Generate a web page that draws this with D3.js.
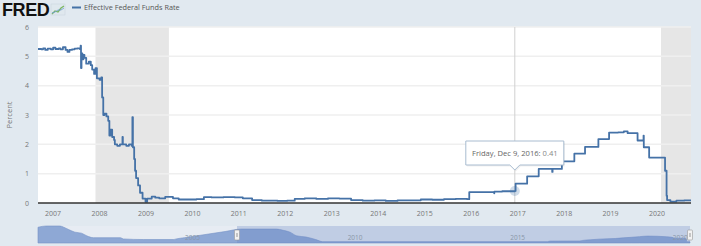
<!DOCTYPE html>
<html>
<head>
<meta charset="utf-8">
<script src="https://cdn.jsdelivr.net/npm/d3@7"></script>
<style>
  body { margin: 0; background: #e1e9f0; }
  svg { display: block; font-family: "Open Sans", "DejaVu Sans", sans-serif; }
</style>
</head>
<body>
<script>
// Effective Federal Funds Rate (step changes and a few spikes)
var fedRate = [
  ["2006-09-05", 5.25], ["2006-10-01", 5.24], ["2006-10-15", 5.27], ["2006-11-01", 5.22],
  ["2006-11-20", 5.26], ["2006-12-15", 5.24], ["2007-01-02", 5.30], ["2007-01-20", 5.25],
  ["2007-02-15", 5.27], ["2007-03-01", 5.24], ["2007-03-20", 5.31], ["2007-04-10", 5.22],
  ["2007-04-25", 5.15], ["2007-05-10", 5.22], ["2007-05-30", 5.24], ["2007-06-20", 5.26],
  ["2007-07-10", 5.27], ["2007-07-31", 5.25], ["2007-08-06", 5.36], ["2007-08-09", 4.60],
  ["2007-08-13", 5.10], ["2007-08-20", 4.90], ["2007-08-28", 5.05], ["2007-09-05", 4.95],
  ["2007-09-19", 4.75], ["2007-10-10", 4.82], ["2007-10-25", 4.70], ["2007-11-05", 4.55],
  ["2007-11-20", 4.40], ["2007-12-01", 4.60], ["2007-12-12", 4.25], ["2008-01-02", 4.20],
  ["2008-01-15", 4.28], ["2008-01-22", 3.60], ["2008-01-31", 3.00], ["2008-02-10", 3.05],
  ["2008-02-25", 2.95], ["2008-03-10", 2.80], ["2008-03-19", 2.30], ["2008-03-28", 2.50],
  ["2008-04-10", 2.25], ["2008-04-25", 2.15], ["2008-05-01", 2.00], ["2008-05-20", 1.95],
  ["2008-06-10", 2.00], ["2008-06-30", 2.25], ["2008-07-03", 2.00], ["2008-07-30", 1.95],
  ["2008-08-20", 2.00], ["2008-09-10", 1.95], ["2008-09-16", 2.93], ["2008-09-20", 1.90],
  ["2008-09-30", 1.50], ["2008-10-07", 1.10], ["2008-10-15", 0.85], ["2008-10-31", 0.60],
  ["2008-11-15", 0.35], ["2008-12-05", 0.15], ["2008-12-28", 0.04], ["2009-01-10", 0.15],
  ["2009-02-15", 0.22], ["2009-03-15", 0.18], ["2009-04-15", 0.16], ["2009-06-01", 0.21],
  ["2009-08-01", 0.16], ["2009-09-15", 0.12], ["2009-12-01", 0.12], ["2010-02-01", 0.13],
  ["2010-04-01", 0.20], ["2010-06-01", 0.19], ["2010-09-01", 0.20], ["2010-12-01", 0.19],
  ["2011-02-01", 0.16], ["2011-04-15", 0.10], ["2011-07-01", 0.08], ["2011-09-01", 0.08],
  ["2011-11-01", 0.07], ["2012-01-15", 0.08], ["2012-03-15", 0.14], ["2012-06-01", 0.16],
  ["2012-09-01", 0.14], ["2012-12-01", 0.16], ["2013-03-01", 0.15], ["2013-06-01", 0.10],
  ["2013-09-01", 0.08], ["2013-12-01", 0.09], ["2014-03-01", 0.07], ["2014-06-01", 0.09],
  ["2014-09-01", 0.09], ["2014-12-01", 0.12], ["2015-03-01", 0.11], ["2015-06-01", 0.13],
  ["2015-09-01", 0.14], ["2015-12-01", 0.13], ["2015-12-17", 0.37], ["2016-06-30", 0.33],
  ["2016-07-01", 0.39], ["2016-09-01", 0.40], ["2016-12-09", 0.41], ["2016-12-15", 0.66],
  ["2017-03-16", 0.91], ["2017-06-15", 1.16], ["2017-09-29", 1.06], ["2017-10-02", 1.16],
  ["2017-12-14", 1.42], ["2018-03-22", 1.68], ["2018-06-14", 1.91], ["2018-09-27", 2.18],
  ["2018-12-20", 2.40], ["2019-03-01", 2.41], ["2019-04-15", 2.44], ["2019-05-15", 2.38],
  ["2019-08-01", 2.13], ["2019-09-17", 2.30], ["2019-09-19", 1.90], ["2019-10-31", 1.55],
  ["2020-03-04", 1.10], ["2020-03-16", 0.25], ["2020-03-20", 0.10], ["2020-04-15", 0.05],
  ["2020-06-01", 0.08], ["2020-08-01", 0.09], ["2020-09-24", 0.09]
];

// longer history shown in the navigator strip
var navRate = [
  ["2000-04-01", 6.0], ["2000-07-01", 6.5], ["2000-12-01", 6.5], ["2001-01-15", 6.0],
  ["2001-03-15", 5.0], ["2001-05-20", 4.0], ["2001-08-01", 3.6], ["2001-10-01", 2.5],
  ["2001-12-15", 1.75], ["2002-10-15", 1.75], ["2002-11-15", 1.25], ["2003-06-30", 1.0],
  ["2004-06-01", 1.0], ["2004-07-01", 1.25], ["2004-10-01", 1.75], ["2005-01-01", 2.25],
  ["2005-07-01", 3.25], ["2006-01-01", 4.25], ["2006-07-01", 5.25], ["2007-08-01", 5.25],
  ["2007-10-15", 4.75], ["2008-01-01", 4.0], ["2008-03-15", 2.5], ["2008-07-01", 2.0],
  ["2008-10-15", 1.0], ["2009-01-01", 0.15], ["2015-12-01", 0.15], ["2016-01-01", 0.37],
  ["2016-12-01", 0.41], ["2017-01-01", 0.66], ["2017-04-01", 0.91], ["2017-07-01", 1.16],
  ["2018-01-01", 1.42], ["2018-04-01", 1.68], ["2018-07-01", 1.91], ["2018-10-01", 2.18],
  ["2019-01-01", 2.40], ["2019-08-01", 2.13], ["2019-10-01", 1.90], ["2019-11-01", 1.55],
  ["2020-03-01", 1.55], ["2020-03-20", 0.08], ["2020-04-20", 0.09]
];

var recessions = [["2007-12-01", "2009-06-30"], ["2020-02-01", "2020-09-24"]];
var yTicks = [0, 1, 2, 3, 4, 5, 6];
var xTickYears = [2007, 2008, 2009, 2010, 2011, 2012, 2013, 2014, 2015, 2016, 2017, 2018, 2019, 2020];
var navTickYears = [2005, 2010, 2015, 2020];
var hoverPoint = ["2016-12-09", 0.41, "Friday, Dec 9, 2016"];

var W = 701, H = 246;
var parse = d3.timeParse("%Y-%m-%d");

var svg = d3.select("body").append("svg").attr("width", W).attr("height", H);
svg.append("rect").attr("width", W).attr("height", H).attr("fill", "#e1e9f0");

// header: logo + legend
svg.append("text").attr("x", 2).attr("y", 15.5)
  .attr("font-family", "Liberation Sans, Arial, sans-serif").attr("font-weight", "bold")
  .attr("font-size", 18).attr("letter-spacing", -0.4).attr("fill", "#111").text("FRED");
var icon = svg.append("g").attr("transform", "translate(51,4)");
icon.append("rect").attr("width", 14).attr("height", 11).attr("fill", "#dfe8ee").attr("stroke", "#c8d3dc").attr("stroke-width", 0.5);
icon.append("path").attr("d", "M1,10 L4,7 L7,8 L10,4 L13,2").attr("fill", "none").attr("stroke", "#7bb661").attr("stroke-width", 1.3);
icon.append("path").attr("d", "M1,9 L4,8 L7,6 L10,6 L13,4").attr("fill", "none").attr("stroke", "#6a9bd1").attr("stroke-width", 0.8);

svg.append("line").attr("x1", 72).attr("x2", 81).attr("y1", 7.5).attr("y2", 7.5)
  .attr("stroke", "#4572a7").attr("stroke-width", 2);
svg.append("text").attr("x", 84).attr("y", 10.3).attr("font-size", 7.3).attr("fill", "#555")
  .text("Effective Federal Funds Rate");

// main plot
var plotL = 38, plotR = 691, plotT = 27, plotB = 203;
var x = d3.scaleTime().domain([parse("2006-09-05"), parse("2020-09-24")]).range([plotL, plotR]);
var y = d3.scaleLinear().domain([0, 6]).range([plotB, plotT]);

svg.append("rect").attr("x", plotL).attr("y", plotT).attr("width", plotR - plotL).attr("height", plotB - plotT).attr("fill", "#fff");

svg.selectAll(".rec").data(recessions).enter().append("rect")
  .attr("x", function(d) { return x(parse(d[0])); })
  .attr("width", function(d) { return x(parse(d[1])) - x(parse(d[0])); })
  .attr("y", plotT).attr("height", plotB - plotT).attr("fill", "#e6e6e6");

svg.selectAll(".grid").data(yTicks.slice(1)).enter().append("line")
  .attr("x1", plotL).attr("x2", plotR)
  .attr("y1", function(d) { return y(d); }).attr("y2", function(d) { return y(d); })
  .attr("stroke", "#efefef").attr("stroke-width", 1.5);

svg.selectAll(".ylab").data(yTicks).enter().append("text")
  .attr("x", 29).attr("y", function(d) { return y(d) + 2.5; })
  .attr("text-anchor", "end").attr("font-size", 7).attr("fill", "#777")
  .text(function(d) { return d; });

svg.append("text").attr("transform", "translate(12,115) rotate(-90)")
  .attr("text-anchor", "middle").attr("font-size", 7.5).attr("fill", "#777").text("Percent");

svg.selectAll(".xlab").data(xTickYears).enter().append("text")
  .attr("x", function(d) { return x(new Date(d, 0, 1)); }).attr("y", 216)
  .attr("text-anchor", "middle").attr("font-size", 7).attr("fill", "#777")
  .text(function(d) { return d; });

// crosshair
var hx = x(parse(hoverPoint[0]));
svg.append("line").attr("x1", hx).attr("x2", hx).attr("y1", plotT).attr("y2", plotB)
  .attr("stroke", "#d0d0d0").attr("stroke-width", 1);

var line = d3.line()
  .x(function(d) { return x(parse(d[0])); })
  .y(function(d) { return y(d[1]); })
  .curve(d3.curveStepAfter);

svg.append("path").datum(fedRate).attr("d", line)
  .attr("fill", "none").attr("stroke", "#4572a7").attr("stroke-width", 1.8).attr("stroke-linejoin", "round");

svg.append("line").attr("x1", plotL).attr("x2", plotR).attr("y1", plotB).attr("y2", plotB)
  .attr("stroke", "#333").attr("stroke-width", 1.5);

// hover marker and tooltip
var hy = y(hoverPoint[1]);
svg.append("circle").attr("cx", hx).attr("cy", hy).attr("r", 5).attr("fill", "#4572a7").attr("opacity", 0.25);
var tipW = 98, tipH = 24, tipBottom = 165;
var tip = svg.append("g");
tip.append("path")
  .attr("transform", "translate(1,1.5)")
  .attr("d", "M" + (hx - tipW / 2) + "," + (tipBottom - tipH) + " h" + tipW + " v" + tipH +
    " h-" + (tipW / 2 - 5) + " l-5,5 l-5,-5 h-" + (tipW / 2 - 5) + " z")
  .attr("fill", "#000").attr("opacity", 0.06);
tip.append("path")
  .attr("d", "M" + (hx - tipW / 2) + "," + (tipBottom - tipH) + " h" + tipW + " v" + tipH +
    " h-" + (tipW / 2 - 5) + " l-5,5 l-5,-5 h-" + (tipW / 2 - 5) + " z")
  .attr("fill", "#fff").attr("stroke", "#a9bcd0").attr("stroke-width", 1);
var tt = tip.append("text").attr("x", hx).attr("y", tipBottom - tipH / 2 + 3)
  .attr("text-anchor", "middle").attr("font-size", 7.6).attr("fill", "#666");
tt.append("tspan").text(hoverPoint[2] + ": ");
tt.append("tspan").attr("fill", "#888").text(hoverPoint[1]);

// navigator
var nTop = 226, nBottom = 243, nRight = 690;
var nx = d3.scaleTime().domain([parse("2000-04-01"), parse("2020-04-20")]).range([plotL, nRight]);
var ny = d3.scaleLinear().domain([0, 6.5]).range([nBottom - 1, nTop]);

svg.append("rect").attr("x", plotL).attr("y", nTop).attr("width", nRight - plotL).attr("height", nBottom - nTop)
  .attr("fill", "#e7ecf3");

var area = d3.area()
  .x(function(d) { return nx(parse(d[0])); })
  .y0(nBottom).y1(function(d) { return ny(d[1]); })
  .curve(d3.curveMonotoneX);
svg.append("path").datum(navRate).attr("d", area).attr("fill", "#8ea8d5").attr("stroke", "#7592c6").attr("stroke-width", 0.6);

var selStart = 237;
svg.append("rect").attr("x", selStart).attr("y", nTop).attr("width", nRight - selStart).attr("height", nBottom - nTop)
  .attr("fill", "rgba(102,133,194,0.3)");

svg.selectAll(".nlab").data(navTickYears).enter().append("text")
  .attr("x", function(d) { return nx(new Date(d, 0, 1)); }).attr("y", 240)
  .attr("text-anchor", "middle").attr("font-size", 6.5).attr("fill", "#8a97a8")
  .text(function(d) { return d; });

[selStart, nRight].forEach(function(hp) {
  var g = svg.append("g").attr("transform", "translate(" + (hp - 2.5) + ",230)");
  g.append("rect").attr("width", 5).attr("height", 10).attr("rx", 1).attr("fill", "#f2f2f2").attr("stroke", "#999").attr("stroke-width", 0.6);
  g.append("line").attr("x1", 2).attr("x2", 2).attr("y1", 3).attr("y2", 7).attr("stroke", "#999").attr("stroke-width", 0.5);
  g.append("line").attr("x1", 3).attr("x2", 3).attr("y1", 3).attr("y2", 7).attr("stroke", "#999").attr("stroke-width", 0.5);
});
</script>
</body>
</html>
